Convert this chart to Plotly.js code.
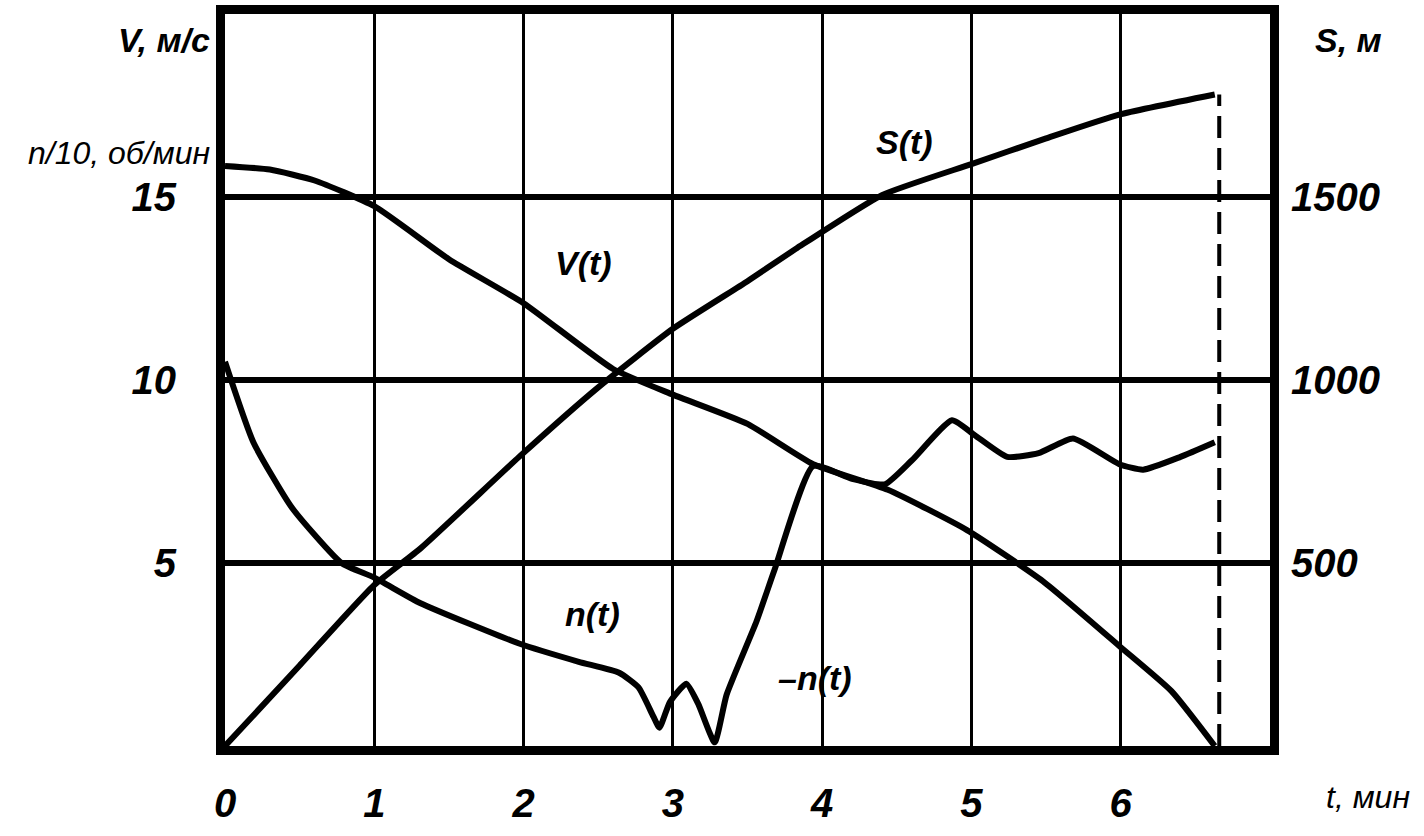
<!DOCTYPE html>
<html>
<head>
<meta charset="utf-8">
<script src="https://cdn.plot.ly/plotly-3.0.1.min.js"></script>
<style>html,body{margin:0;padding:0;background:#fff;}#chart{width:1424px;height:836px;}</style>
</head>
<body>
<div id="chart"></div>
<script>
// Time axis ticks
const xTicks = [0, 1, 2, 3, 4, 5, 6];
const xTickText = ["0", "1", "2", "3", "4", "5", "6"];
const yTicks = [5, 10, 15];
const yTickText = ["5", "10", "15"];
const y2Ticks = [500, 1000, 1500];
const y2TickText = ["500", "1000", "1500"];

// V(t), m/s
const tV = [0, 0.3, 0.6, 1, 1.5, 2, 2.6, 3, 3.5, 3.94, 4.44, 4.97, 5.48, 6, 6.34, 6.63];
const V  = [15.85, 15.75, 15.45, 14.75, 13.3, 12.1, 10.3, 9.6, 8.8, 7.7, 7.0, 5.9, 4.5, 2.7, 1.5, 0];

// S(t), m
const tS = [0, 0.5, 1, 1.31, 1.97, 2.5, 3, 3.5, 3.83, 4.4, 5, 5.5, 5.99, 6.63];
const S  = [0, 220, 440, 540, 790, 980, 1140, 1270, 1360, 1505, 1590, 1660, 1725, 1780];

// n(t)/10, rpm
const tN = [0, 0.19, 0.45, 0.78, 1, 1.31, 1.97, 2.37, 2.64, 2.77, 2.87, 2.91, 2.98, 3.09, 3.17, 3.28, 3.36, 3.56, 3.68, 3.94, 4.2, 4.42, 4.6, 4.87, 5.02, 5.24, 5.45, 5.68, 5.99, 6.15, 6.4, 6.63];
const N  = [10.5, 8.3, 6.5, 5.0, 4.6, 3.9, 2.8, 2.3, 2.0, 1.6, 0.8, 0.5, 1.2, 1.7, 1.15, 0.1, 1.4, 3.4, 4.8, 7.65, 7.3, 7.15, 7.8, 8.9, 8.5, 7.9, 8.0, 8.4, 7.7, 7.55, 7.9, 8.3];

// End time (dashed marker)
const tEnd = 6.66;
const sEnd = 1780;

const fam = "Liberation Sans, Arial, sans-serif";
const labelFont = {family: fam, size: 34, color: "#000", style: "italic", weight: 700};
const tickFont = {family: fam, size: 40, color: "#000", style: "italic", weight: 700};
const lineStyle = {color: "#000", width: 6, shape: "spline", smoothing: 0.5};

const traces = [
  {x: tV, y: V, mode: "lines", line: lineStyle, hoverinfo: "skip", showlegend: false},
  {x: tN, y: N, mode: "lines", line: lineStyle, hoverinfo: "skip", showlegend: false},
  {x: tS, y: S, mode: "lines", line: lineStyle, yaxis: "y2", hoverinfo: "skip", showlegend: false},
  {x: [tEnd, tEnd], y: [0, sEnd], mode: "lines", yaxis: "y2", line: {color: "#000", width: 4, dash: "22px,10px"}, hoverinfo: "skip", showlegend: false}
];

const layout = {
  width: 1424, height: 836,
  margin: {l: 225, r: 154, t: 14, b: 90},
  paper_bgcolor: "#fff", plot_bgcolor: "#fff",
  font: labelFont,
  xaxis: {
    range: [0, 7], tickvals: xTicks, ticktext: xTickText,
    showgrid: true, gridcolor: "#000", gridwidth: 3,
    showline: true, linecolor: "#000", linewidth: 9, mirror: true,
    ticks: "", ticklabelstandoff: 14, zeroline: false,
    tickfont: tickFont
  },
  yaxis: {
    range: [0, 20], tickvals: yTicks, ticktext: yTickText,
    showgrid: true, gridcolor: "#000", gridwidth: 6,
    showline: true, linecolor: "#000", linewidth: 9, mirror: true,
    ticks: "", ticklabelstandoff: 32, zeroline: false,
    tickfont: tickFont
  },
  yaxis2: {
    range: [0, 2000], tickvals: y2Ticks, ticktext: y2TickText,
    overlaying: "y", side: "right", showgrid: false, showline: false,
    ticks: "", ticklabelstandoff: 20, zeroline: false,
    tickfont: tickFont
  },
  annotations: [
    {xref: "paper", yref: "paper", x: -0.012, y: 0.965, xanchor: "right", yanchor: "middle", text: "V, м/с", showarrow: false, font: labelFont},
    {xref: "paper", yref: "paper", x: -0.012, y: 0.81, xanchor: "right", yanchor: "middle", text: "n/10, об/мин", showarrow: false, font: Object.assign({}, labelFont, {size: 32, weight: 400})},
    {xref: "paper", yref: "paper", x: 1.075, y: 0.965, xanchor: "center", yanchor: "middle", text: "S, м", showarrow: false, font: labelFont},
    {xref: "paper", yref: "paper", x: 1.052, y: -0.07, xanchor: "left", yanchor: "middle", text: "t, мин", showarrow: false, font: Object.assign({}, labelFont, {size: 32, weight: 400})},
    {x: 4.55, y: 16.5, text: "S(t)", showarrow: false, font: labelFont},
    {x: 2.4, y: 13.2, text: "V(t)", showarrow: false, font: labelFont},
    {x: 2.46, y: 3.6, text: "n(t)", showarrow: false, font: labelFont},
    {x: 3.95, y: 1.85, text: "–n(t)", showarrow: false, font: labelFont}
  ]
};

Plotly.newPlot("chart", traces, layout, {staticPlot: true, displayModeBar: false});
</script>
</body>
</html>
